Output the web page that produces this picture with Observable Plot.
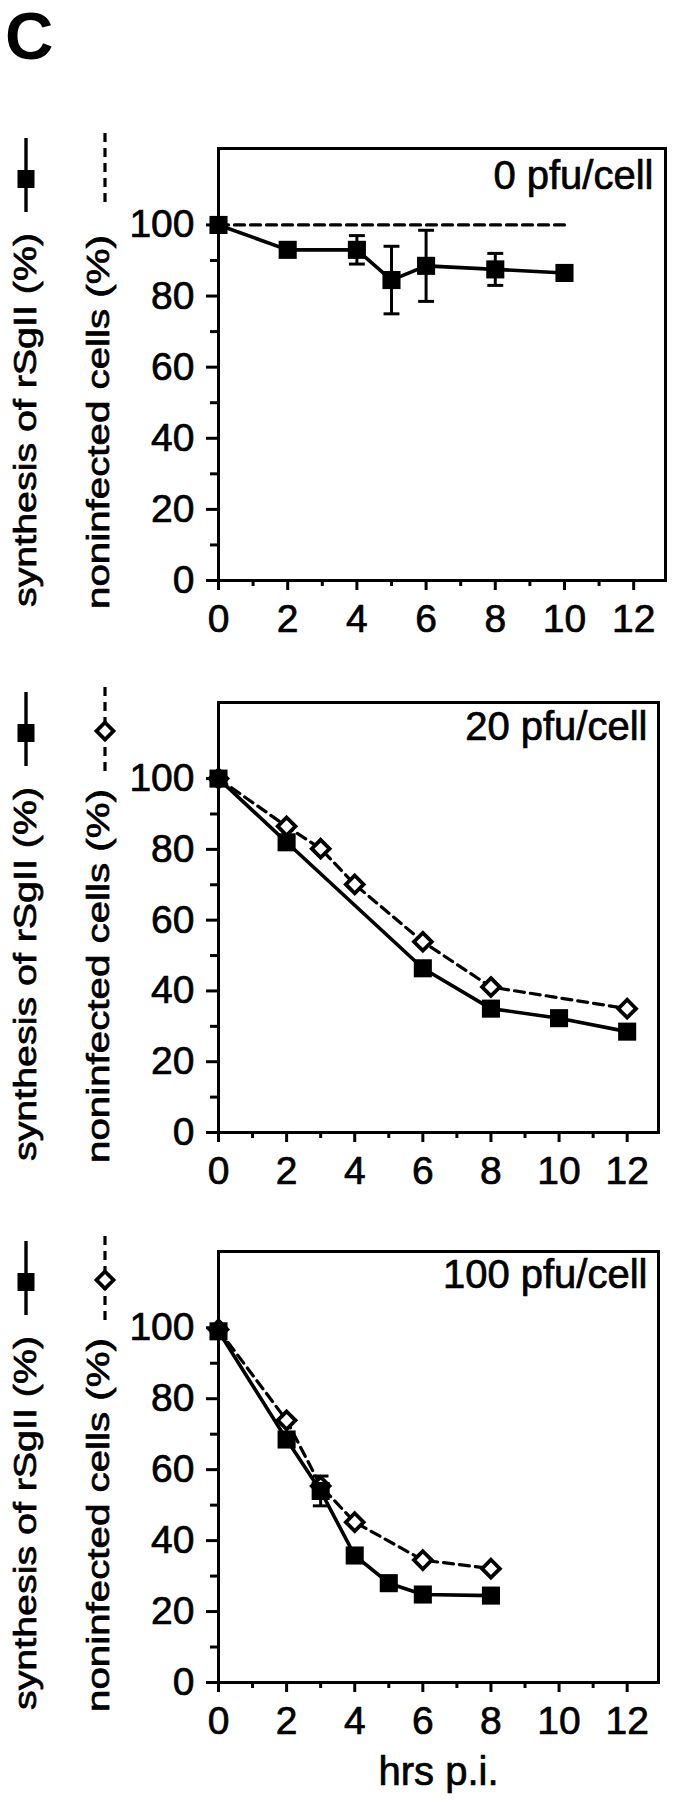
<!DOCTYPE html>
<html><head><meta charset="utf-8">
<script src="https://cdn.jsdelivr.net/npm/d3@7"></script>
<script src="https://cdn.jsdelivr.net/npm/@observablehq/plot@0.6"></script>
<style>
body{margin:0;background:#fff;font-family:"Liberation Sans",Arial,Helvetica,sans-serif;}
#fig{position:relative;width:682px;}
#head{height:100px;position:relative;}
#letter{position:absolute;left:5px;top:2px;font-size:67px;line-height:67px;font-weight:bold;color:#000;}
svg{display:block}
svg text{stroke:black;stroke-width:0.7px;}
</style></head><body>
<div id="fig"><div id="head"><div id="letter">C</div></div></div>
<script>
// ---- data ----
const panelTitles = ["0 pfu/cell", "20 pfu/cell", "100 pfu/cell"];
const yLabel1 = "synthesis of rSgII (%)";
const yLabel2 = "noninfected cells (%)";
const xLabel = "hrs p.i.";

const hours0 = [0, 2, 4, 5, 6, 8, 10];
const synth0 = [100, 93, 93, 84.5, 88.5, 87.5, 86.5];
const err0 = [0, 0, 4, 9.5, 10, 4.5, 0];
const nonInf0 = [100, 100, 100, 100, 100, 100, 100];

const hoursS20 = [0, 2, 6, 8, 10, 12];
const synth20 = [100, 82, 46.4, 35, 32.3, 28.5];
const hoursN20 = [0, 2, 3, 4, 6, 8, 12];
const nonInf20 = [100, 86.5, 80.2, 70.1, 53.9, 41.1, 35];

const hoursS100 = [0, 2, 3, 4, 5, 6, 8];
const synth100 = [99, 68.5, 54, 35.8, 28, 24.8, 24.5];
const err100 = [0, 0, 4.2, 0, 0, 0, 0];
const hoursN100 = [0, 2, 3, 4, 6, 8];
const nonInf100 = [99.5, 73.9, 55.4, 45.2, 34.5, 32.1];

const xMajor = [0, 2, 4, 6, 8, 10, 12];
const xMinor = [1, 3, 5, 7, 9, 11];
const yMajor = [0, 20, 40, 60, 80, 100];
const yMinor = [10, 30, 50, 70, 90];

// ---- helpers ----
const FONT = '"Liberation Sans", Arial, Helvetica, sans-serif';
const zip = (xs, ys, es) => xs.map((x, i) => ({x, y: ys[i], e: es ? es[i] : 0}));
const diamond2 = {draw(ctx, size) {
  const r = Math.sqrt(size) * 0.62625;
  ctx.moveTo(0, -r); ctx.lineTo(r, 0); ctx.lineTo(0, r); ctx.lineTo(-r, 0); ctx.closePath();
}};

function panel(cfg) {
  const {title, titleDx, titleDy, marginRight, height, marginBottom, solid, dashed, dashedMarkers, showXLabel} = cfg;
  const errs = solid.filter(d => d.e > 0);
  const marks = [
    Plot.frame({stroke: "black", strokeWidth: 3}),
    Plot.axisX(xMajor, {tickSize: 10, tickPadding: 14, strokeWidth: 3, fontSize: 39, label: null}),
    Plot.axisX(xMinor, {tickSize: 6, strokeWidth: 3, fill: "none", label: null}),
    Plot.axisY(yMajor, {tickSize: 12, tickPadding: 12, strokeWidth: 3, fontSize: 39, label: null}),
    Plot.axisY(yMinor, {tickSize: 8, strokeWidth: 3, fill: "none", label: null}),
    Plot.line(dashed, {x: "x", y: "y", stroke: "black", strokeWidth: 3.2, strokeDasharray: "10,6"}),
    Plot.line(solid, {x: "x", y: "y", stroke: "black", strokeWidth: 3.6}),
    Plot.ruleX(errs, {x: "x", y1: d => d.y - d.e, y2: d => d.y + d.e, stroke: "black", strokeWidth: 3}),
    Plot.link(errs, {x1: d => d.x - 0.23, x2: d => d.x + 0.23, y1: d => d.y + d.e, y2: d => d.y + d.e, stroke: "black", strokeWidth: 3}),
    Plot.link(errs, {x1: d => d.x - 0.23, x2: d => d.x + 0.23, y1: d => d.y - d.e, y2: d => d.y - d.e, stroke: "black", strokeWidth: 3}),
  ];
  if (dashedMarkers) marks.push(Plot.dot(dashed, {x: "x", y: "y", symbol: diamond2, r: 8, fill: "white", stroke: "black", strokeWidth: 3.8}));
  marks.push(Plot.dot(solid, {x: "x", y: "y", symbol: "square", r: 10.2, fill: "black", stroke: "none"}));
  marks.push(Plot.text([title], {frameAnchor: "top-right", text: d => d, textAnchor: "end", lineAnchor: "bottom", dx: titleDx, dy: titleDy, fontSize: 40, fill: "black"}));
  if (showXLabel) marks.push(Plot.text([xLabel], {frameAnchor: "bottom", text: d => d, lineAnchor: "bottom", dy: 102, fontSize: 40, fill: "black"}));

  const svg = Plot.plot({
    width: 682, height, marginTop: 48, marginLeft: 218, marginRight, marginBottom,
    x: {domain: [0, 12.92]},
    y: {domain: [0, 121.5]},
    style: {fontFamily: FONT, fontSize: "39px", color: "black", background: "white", overflow: "visible"},
    marks
  });

  // rotated axis titles with legend glyphs
  const s = d3.select(svg);
  const g = s.append("g").attr("fill", "black").attr("font-family", FONT);
  g.append("text").attr("transform", "translate(36,320) rotate(-90)").attr("text-anchor", "middle")
    .attr("font-size", 31).attr("textLength", 374).attr("lengthAdjust", "spacingAndGlyphs").text(yLabel1);
  g.append("text").attr("transform", "translate(109,322) rotate(-90)").attr("text-anchor", "middle")
    .attr("font-size", 31).attr("textLength", 374).attr("lengthAdjust", "spacingAndGlyphs").text(yLabel2);
  g.append("line").attr("x1", 26).attr("x2", 26).attr("y1", 38).attr("y2", 112).attr("stroke", "black").attr("stroke-width", 3.4);
  g.append("rect").attr("x", 17.5).attr("y", 70).attr("width", 17).attr("height", 18).attr("fill", "black");
  const dEnd = dashedMarkers ? 123 : 108;
  g.append("line").attr("x1", 105).attr("x2", 105).attr("y1", 33).attr("y2", dEnd).attr("stroke", "black").attr("stroke-width", 3.2).attr("stroke-dasharray", "9,6");
  if (dashedMarkers) {
    g.append("path").attr("d", "M105,68.5L113.5,77L105,85.5L96.5,77Z").attr("fill", "white").attr("stroke", "black").attr("stroke-width", 3.8);
  }
  return svg;
}

const fig = document.getElementById("fig");
fig.appendChild(panel({title: panelTitles[0], titleDx: -12, titleDy: 40, marginRight: 17, height: 554, marginBottom: 74,
  solid: zip(hours0, synth0, err0), dashed: zip(hours0, nonInf0), dashedMarkers: false}));
fig.appendChild(panel({title: panelTitles[1], titleDx: -11, titleDy: 37, marginRight: 24, height: 549, marginBottom: 71,
  solid: zip(hoursS20, synth20), dashed: zip(hoursN20, nonInf20), dashedMarkers: true}));
fig.appendChild(panel({title: panelTitles[2], titleDx: -11, titleDy: 36, marginRight: 24, height: 597, marginBottom: 118,
  solid: zip(hoursS100, synth100, err100), dashed: zip(hoursN100, nonInf100), dashedMarkers: true, showXLabel: true}));
</script>
</body></html>
